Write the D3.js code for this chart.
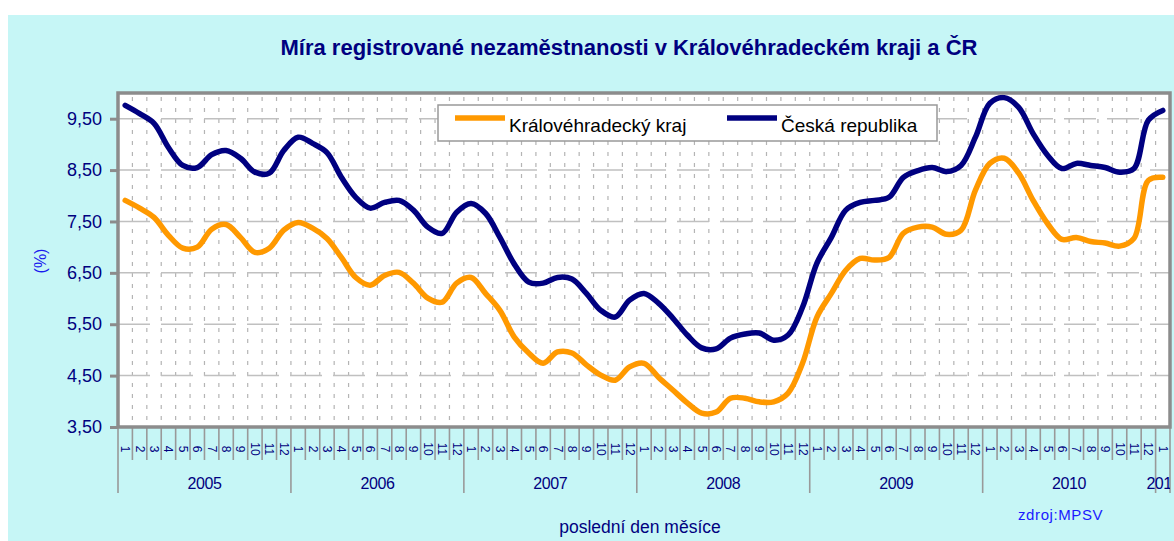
<!DOCTYPE html>
<html>
<head>
<meta charset="utf-8">
<script src="https://cdn.jsdelivr.net/npm/d3@7"></script>
<style>
  body { margin: 0; background: #fff; }
  svg { display: block; font-family: Arial, "Liberation Sans", sans-serif; }
</style>
</head>
<body>
<div id="chart"></div>
<script>
// values, one per month, Jan 2005 .. Jan 2011
let years = ["2005", "2006", "2007", "2008", "2009", "2010", "2011"];
let monthLabels = [];
for (let k = 0; k < 73; k++) monthLabels.push(String(k % 12 + 1));

let khk = [
  7.91, 7.76, 7.58, 7.23, 6.98, 7.00, 7.35, 7.44, 7.19, 6.90, 6.98, 7.33,
  7.48, 7.37, 7.17, 6.80, 6.41, 6.26, 6.45, 6.51, 6.30, 6.01, 5.93, 6.30,
  6.41, 6.10, 5.77, 5.25, 4.94, 4.74, 4.96, 4.94, 4.71, 4.51, 4.41, 4.67,
  4.74, 4.47, 4.22, 3.97, 3.77, 3.79, 4.06, 4.06, 3.99, 3.99, 4.16, 4.74,
  5.64, 6.10, 6.55, 6.78, 6.75, 6.80, 7.27, 7.39, 7.39, 7.25, 7.33, 8.11,
  8.63, 8.73, 8.44, 7.91, 7.46, 7.15, 7.19, 7.11, 7.08, 7.02, 7.17, 8.30,
  8.36
];
let cr = [
  9.76, 9.60, 9.41, 8.94, 8.59, 8.55, 8.80, 8.88, 8.73, 8.46, 8.44, 8.88,
  9.14, 9.02, 8.84, 8.36, 7.97, 7.76, 7.87, 7.91, 7.72, 7.39, 7.27, 7.68,
  7.85, 7.66, 7.19, 6.67, 6.32, 6.30, 6.41, 6.38, 6.10, 5.77, 5.64, 5.97,
  6.10, 5.91, 5.62, 5.29, 5.04, 5.02, 5.23, 5.31, 5.33, 5.19, 5.29, 5.83,
  6.69, 7.19, 7.72, 7.87, 7.91, 7.97, 8.36, 8.49, 8.55, 8.47, 8.59, 9.14,
  9.80, 9.91, 9.72, 9.21, 8.79, 8.53, 8.63, 8.59, 8.55, 8.46, 8.53, 9.47,
  9.66
];
let yTicks = [3.5, 4.5, 5.5, 6.5, 7.5, 8.5, 9.5];
let seriesNames = ["Královéhradecký kraj", "Česká republika"];
let seriesColors = ["#ff9900", "#000080"];

let width = 1174, height = 541;
let plotLeft = 118, plotRight = 1170, plotTop = 93, plotBottom = 427;

let svg = d3.select("#chart").append("svg")
    .attr("width", width)
    .attr("height", height);

svg.append("rect")   // cyan chart area
    .attr("x", 8).attr("y", 15)
    .attr("width", width - 8).attr("height", height - 15)
    .attr("fill", "#c6f6f6");

let x = d3.scaleBand()
    .domain(d3.range(monthLabels.length))
    .range([plotLeft, plotRight])
    .padding(0);
let bw = x.bandwidth();

let y = d3.scaleLinear()
    .domain([3.5, 10])
    .range([plotBottom, plotTop]);

let comma = d3.formatLocale({decimal: ",", thousands: " ", grouping: [3], currency: ["", ""]}).format(".2f");

// plot background
svg.append("rect")
    .attr("x", plotLeft).attr("y", plotTop)
    .attr("width", plotRight - plotLeft).attr("height", plotBottom - plotTop)
    .attr("fill", "#fff");

// vertical grid, one per month boundary
svg.append("g").selectAll("line")
    .data(d3.range(1, monthLabels.length))
    .enter().append("line")
    .attr("x1", d => x(d)).attr("x2", d => x(d))
    .attr("y1", plotTop + 4).attr("y2", plotBottom)
    .attr("stroke", "#b4b4b4")
    .attr("stroke-width", 1.2)
    .attr("stroke-dasharray", "4,7");

// horizontal grid
svg.append("g").selectAll("line")
    .data(yTicks.slice(1))
    .enter().append("line")
    .attr("x1", plotLeft).attr("x2", plotRight)
    .attr("y1", d => y(d)).attr("y2", d => y(d))
    .attr("stroke", "#c0c0c0")
    .attr("stroke-width", 1.5)
    .attr("stroke-dasharray", "32,11");

// y axis
let yAxis = svg.append("g")
    .attr("transform", "translate(" + plotLeft + ",0)")
    .call(d3.axisLeft(y).tickValues(yTicks).tickFormat(comma).tickSize(8).tickPadding(8));
yAxis.select(".domain").remove();
yAxis.selectAll(".tick line").attr("stroke", "#8c8c8c").attr("stroke-width", 3);
yAxis.selectAll(".tick text")
    .attr("fill", "#000080")
    .style("font-size", "18px")
    .style("font-family", "Arial, 'Liberation Sans', sans-serif");

// x axis: month ticks below the plot
svg.append("g").selectAll("line")
    .data(d3.range(0, monthLabels.length + 1))
    .enter().append("line")
    .attr("x1", d => d < monthLabels.length ? x(d) : plotRight)
    .attr("x2", d => d < monthLabels.length ? x(d) : plotRight)
    .attr("y1", plotBottom)
    .attr("y2", d => (d % 12 === 0 || d === monthLabels.length) ? 493 : 460)
    .attr("stroke", "#999")
    .attr("stroke-width", 1.6);

svg.append("g").selectAll("text")
    .data(monthLabels)
    .enter().append("text")
    .attr("transform", (d, i) => "translate(" + (x(i) + bw / 2) + ",449) rotate(90)")
    .attr("text-anchor", "middle")
    .attr("dominant-baseline", "central")
    .attr("fill", "#000080")
    .style("font-size", "12px")
    .text(d => d);

svg.append("clipPath").attr("id", "plotclip")
    .append("rect").attr("x", plotLeft).attr("y", 0).attr("width", plotRight - plotLeft).attr("height", height);

// year labels, the last one is cut at the plot edge like in the original
svg.append("g").attr("clip-path", "url(#plotclip)").selectAll("text")
    .data(years)
    .enter().append("text")
    .attr("x", (d, i) => {
        let s = i * 12, e = Math.min(s + 12, monthLabels.length);
        return (x(s) + x(e - 1) + bw) / 2;
    })
    .attr("y", 489)
    .attr("text-anchor", "middle")
    .attr("fill", "#000080")
    .style("font-size", "16px")
    .style("letter-spacing", "-0.4px")
    .text(d => d);

// series
let line = d3.line()
    .x((d, i) => x(i) + bw / 2)
    .y(d => y(d))
    .curve(d3.curveCatmullRom.alpha(0.5));

[khk, cr].forEach(function(series, k) {
    svg.append("path")
        .datum(series)
        .attr("d", line)
        .attr("fill", "none")
        .attr("stroke", seriesColors[k])
        .attr("stroke-width", 5.5)
        .attr("stroke-linejoin", "round")
        .attr("stroke-linecap", "round");
});

// plot frame
svg.append("rect")
    .attr("x", plotLeft).attr("y", plotTop)
    .attr("width", plotRight - plotLeft).attr("height", plotBottom - plotTop)
    .attr("fill", "none")
    .attr("stroke", "#8c8c8c")
    .attr("stroke-width", 3.5);

// legend
let legend = svg.append("g");
legend.append("rect")
    .attr("x", 438).attr("y", 105)
    .attr("width", 499).attr("height", 36)
    .attr("fill", "#fff")
    .attr("stroke", "#999")
    .attr("stroke-width", 1.5);
let legendX = [455, 727];
seriesNames.forEach(function(name, k) {
    legend.append("line")
        .attr("x1", legendX[k]).attr("x2", legendX[k] + 50)
        .attr("y1", 118).attr("y2", 118)
        .attr("stroke", seriesColors[k])
        .attr("stroke-width", 5.5);
    legend.append("text")
        .attr("x", legendX[k] + 54)
        .attr("y", 132)
        .attr("fill", "#000")
        .style("font-size", "19px")
        .text(name);
});

// titles
svg.append("text")
    .attr("x", 629).attr("y", 55)
    .attr("text-anchor", "middle")
    .attr("fill", "#000080")
    .style("font-size", "22px")
    .style("font-weight", "bold")
    .text("Míra registrované nezaměstnanosti v Královéhradeckém kraji a ČR");

svg.append("text")
    .attr("transform", "translate(46,261) rotate(-90)")
    .attr("text-anchor", "middle")
    .attr("fill", "#1a1aee")
    .style("font-size", "16px")
    .text("(%)");

svg.append("text")
    .attr("x", 640).attr("y", 533)
    .attr("text-anchor", "middle")
    .attr("fill", "#000080")
    .style("font-size", "17.5px")
    .text("poslední den měsíce");

svg.append("text")
    .attr("x", 1018).attr("y", 520)
    .attr("fill", "#1a1aff")
    .style("font-size", "15px")
    .style("letter-spacing", "0.6px")
    .text("zdroj:MPSV");
</script>
</body>
</html>
